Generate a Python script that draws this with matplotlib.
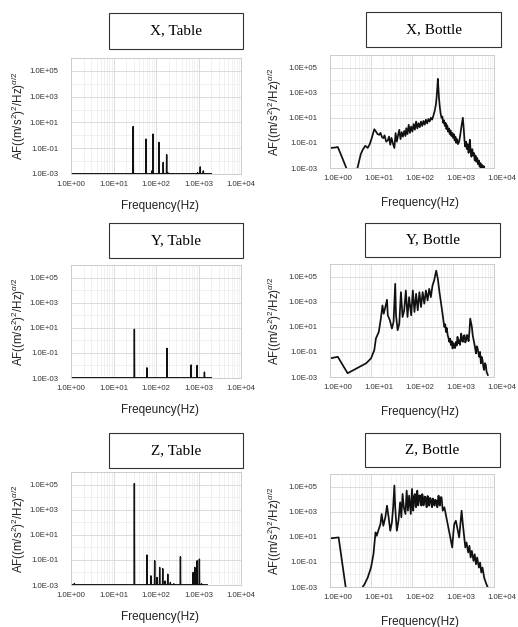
import matplotlib
matplotlib.use('Agg')
import numpy as np
import matplotlib.pyplot as plt
import matplotlib.transforms as mtransforms
from matplotlib.patches import Rectangle
from matplotlib.ticker import FixedLocator, NullFormatter

plt.rcParams['font.family'] = ['Liberation Sans', 'DejaVu Sans']
plt.rcParams['mathtext.fontset'] = 'custom'
plt.rcParams['mathtext.rm'] = 'Liberation Sans'
plt.rcParams['mathtext.it'] = 'Liberation Sans:italic'

# ---- data (log10 of frequency in Hz, log10 of AF) ----
# Table: discrete spikes on a floor near 1e-3
x_table_f = [29, 58, 80, 85, 117, 148, 178, 190, 950, 1100, 1300]
x_table_logaf = [0.68, -0.29, -2.76, 0.1, -0.55, -2.1, -1.5, -2.9, -2.9, -2.45, -2.76]

y_table_f = [31, 61, 182, 670, 930, 1380]
y_table_logaf = [0.88, -2.19, -0.64, -1.96, -2.0, -2.53]

z_table_f = [1.2, 31, 61, 76, 93, 106, 122, 144, 163, 189, 218, 262, 376,
             750, 820, 930, 1050, 1180]
z_table_logaf = [-2.88, 5.08, -0.61, -2.27, -1.07, -2.4, -1.6, -1.7, -2.68, -2.14,
                 -2.8, -2.9, -0.75, -2.0, -1.6, -1.07, -0.94, -2.9]

table_floor = -2.98

# Bottle: continuous spectra
x_bottle_logf = [-0.02, 0.10, 0.19, 0.30, 0.41, 0.50, 0.67, 0.75, 0.80, 0.86, 0.92, 0.97,
                 1.02, 1.08, 1.12, 1.16, 1.20, 1.23, 1.27, 1.30, 1.33, 1.37, 1.41, 1.44,
                 1.47, 1.50, 1.53, 1.57, 1.60, 1.63, 1.66, 1.69, 1.72, 1.75, 1.78, 1.81,
                 1.84, 1.86, 1.89, 1.92, 1.95, 1.98, 2.01, 2.04, 2.07, 2.10, 2.13, 2.16,
                 2.19, 2.22, 2.25, 2.28, 2.31, 2.34, 2.37, 2.40, 2.43, 2.46, 2.49, 2.52,
                 2.55, 2.58, 2.60, 2.62, 2.63, 2.645, 2.66, 2.68, 2.70, 2.72, 2.74, 2.76,
                 2.78, 2.80, 2.82, 2.84, 2.86, 2.88, 2.90, 2.92, 2.94, 2.96, 2.98, 3.00,
                 3.02, 3.04, 3.06, 3.08, 3.10, 3.12, 3.15, 3.18, 3.21, 3.24, 3.26, 3.28,
                 3.30, 3.32, 3.34, 3.36, 3.38, 3.40, 3.41, 3.43, 3.45, 3.47, 3.49, 3.51,
                 3.53, 3.55, 3.57, 3.59, 3.61, 3.63, 3.65, 3.67, 3.69, 3.71, 3.73, 3.75, 3.77]
x_bottle_logaf = [-1.41, -1.38, -1.33, -2.2, -3.1, -3.8, -3.0, -1.9, -1.54, -1.23, -1.4, -1.1,
                  -0.6, 0.09, -0.09, -0.3, -0.36, -0.2, -0.55, -0.62, -0.4, -0.9, -0.8, -0.5,
                  -1.15, -0.6, -1.0, -1.41, -0.22, -0.9, -0.4, 0.04, -0.7, -0.15, -0.5, -0.05,
                  -0.45, 0.17, -0.3, 0.44, -0.2, 0.3, -0.1, 0.5, 0.05, 0.7, 0.15, 0.57,
                  0.25, 0.7, 0.35, 0.75, 0.45, 0.85, 0.55, 0.9, 0.7, 1.0, 0.85, 1.15,
                  1.5, 2.0, 2.6, 3.5, 4.1, 3.3, 2.5, 1.8, 1.3, 1.0, 1.1, 0.6,
                  0.8, 0.35, 0.6, 0.1, 0.4, -0.1, 0.15, -0.3, 0.0, -0.45, -0.2, -0.6,
                  -0.3, -0.8, -0.5, -1.0, -0.7, -1.1, -0.9, -0.3, 0.4, 1.0, 0.2, -0.8,
                  -1.3, -0.9, -1.5, -1.1, -1.8, -1.2, -0.75, -1.6, -2.1, -1.5, -2.0, -1.8,
                  -2.4, -2.0, -2.5, -2.2, -2.7, -2.4, -2.9, -2.6, -3.0, -2.75, -3.05, -2.85, -3.2]

y_bottle_logf = [0.00, 0.19, 0.43, 0.88, 1.00, 1.08, 1.12, 1.19, 1.24, 1.28, 1.31, 1.35,
                 1.39, 1.41, 1.46, 1.51, 1.55, 1.59, 1.61, 1.65, 1.69, 1.73, 1.77, 1.81,
                 1.85, 1.89, 1.93, 1.98, 2.02, 2.06, 2.10, 2.14, 2.18, 2.22, 2.26, 2.30,
                 2.34, 2.38, 2.42, 2.46, 2.50, 2.54, 2.59, 2.63, 2.67, 2.71, 2.75, 2.77,
                 2.79, 2.81, 2.83, 2.85, 2.87, 2.89, 2.91, 2.93, 2.95, 2.97, 2.99, 3.01,
                 3.03, 3.05, 3.07, 3.09, 3.11, 3.13, 3.15, 3.17, 3.20, 3.22, 3.24, 3.26,
                 3.28, 3.30, 3.32, 3.34, 3.36, 3.38, 3.40, 3.42, 3.46, 3.48, 3.52, 3.54,
                 3.56, 3.58, 3.60, 3.62, 3.64, 3.66, 3.68, 3.70, 3.72, 3.74, 3.76, 3.78,
                 3.80, 3.82, 3.85]
y_bottle_logaf = [-1.52, -1.39, -2.70, -1.91, -1.52, -0.86, 0.07, 0.59, 1.65, 2.70, 2.04, 2.57,
                  3.15, 1.91, 1.52, 0.86, 1.39, 4.42, 1.91, 0.73, 1.25, 3.76, 1.78, 2.31,
                  3.89, 1.78, 3.36, 1.91, 3.89, 2.18, 3.63, 2.31, 3.76, 2.57, 3.76, 2.84,
                  3.89, 3.10, 4.02, 3.36, 4.29, 4.68, 5.47, 4.82, 3.76, 2.84, 1.91, 1.40,
                  0.99, 1.20, 0.59, 0.90, 0.33, 0.10, -0.20, 0.05, -0.46, -0.15, -0.73, -0.30,
                  -0.46, -0.70, -0.20, -0.50, 0.20, -0.30, -0.07, -0.45, 0.46, -0.10, -0.20, 0.30,
                  0.33, -0.25, -0.07, 0.35, 0.20, -0.15, 0.59, 1.65, 0.99, 0.33, -0.33, -0.70,
                  -1.12, -0.55, -0.73, -1.10, -1.39, -1.00, -1.91, -1.40, -1.65, -2.20, -2.44, -1.90,
                  -2.04, -2.60, -2.84]

z_bottle_logf = [0.00, 0.21, 0.39, 0.76, 0.84, 0.92, 1.00, 1.06, 1.11, 1.14, 1.19, 1.23,
                 1.26, 1.30, 1.35, 1.39, 1.43, 1.47, 1.51, 1.54, 1.57, 1.59, 1.63, 1.67,
                 1.71, 1.74, 1.77, 1.80, 1.84, 1.87, 1.90, 1.93, 1.97, 2.00, 2.03, 2.05,
                 2.07, 2.09, 2.10, 2.12, 2.13, 2.15, 2.16, 2.18, 2.20, 2.22, 2.23, 2.25,
                 2.26, 2.28, 2.29, 2.31, 2.33, 2.35, 2.36, 2.38, 2.39, 2.41, 2.42, 2.44,
                 2.46, 2.48, 2.49, 2.51, 2.52, 2.54, 2.55, 2.57, 2.59, 2.61, 2.62, 2.64,
                 2.65, 2.67, 2.68, 2.70, 2.72, 2.75, 2.79, 2.83, 2.87, 2.91, 2.95, 2.98,
                 3.01, 3.03, 3.07, 3.11, 3.15, 3.18, 3.21, 3.24, 3.27, 3.30, 3.33, 3.37,
                 3.40, 3.43, 3.46, 3.50, 3.53, 3.56, 3.59, 3.63, 3.66, 3.69, 3.72, 3.76,
                 3.80, 3.85]
z_bottle_logaf = [0.87, 0.95, -3.19, -3.19, -2.79, -2.25, -1.45, -0.39, 1.35, 1.08, 1.61, 2.01,
                  2.81, 1.88, 2.55, 3.48, 2.55, 1.48, 2.15, 3.35, 5.08, 3.35, 1.48, 2.28,
                  3.75, 2.55, 4.41, 3.35, 2.81, 4.68, 3.08, 4.28, 2.81, 4.81, 3.08, 4.20,
                  4.41, 3.40, 3.35, 4.50, 4.68, 3.50, 3.61, 4.30, 4.28, 3.55, 3.48, 4.40,
                  4.28, 3.50, 3.61, 4.20, 4.15, 3.40, 3.35, 4.25, 4.15, 3.50, 3.48, 4.10,
                  4.01, 3.45, 3.35, 4.05, 4.01, 3.55, 3.48, 3.95, 3.88, 3.40, 3.35, 4.20,
                  4.28, 3.55, 3.48, 4.15, 4.15, 3.08, 3.35, 2.68, 2.01, 1.35, 0.68, 0.15,
                  1.35, 2.01, 2.28, 1.61, 0.95, 2.01, 3.08, 2.01, 1.08, 0.15, 0.55, -0.25,
                  0.28, -0.65, -0.12, -0.92, -0.39, -1.19, -0.65, -1.45, -1.05, -1.85, -1.45, -2.25,
                  -2.65, -3.05]

ytick_vals = [1e-3, 1e-1, 1e1, 1e3, 1e5]
ytick_labels = ['1.0E-03', '1.0E-01', '1.0E+01', '1.0E+03', '1.0E+05']
xtick_vals = [1e0, 1e1, 1e2, 1e3, 1e4]
xtick_labels = ['1.0E+00', '1.0E+01', '1.0E+02', '1.0E+03', '1.0E+04']

titles = ['X, Table', 'X, Bottle', 'Y, Table', 'Y, Bottle', 'Z, Table', 'Z, Bottle']
xlabels = ['Frequency(Hz)', 'Frequency(Hz)', 'Freqeuncy(Hz)', 'Frequency(Hz)',
           'Frequency(Hz)', 'Frequency(Hz)']
ylabel = r'AF((m/s$^2$)$^2$/Hz)$^{\alpha/2}$'

# ---- layout in pixels (left, top, right, bottom) ----
W, H = 518, 627
axes_px = [(71, 58, 241, 174), (330, 55, 494, 168),
           (71, 265, 241, 378), (330, 264, 494, 377),
           (71, 472, 241, 585), (330, 474, 494, 587)]
box_px = [(109, 13, 243, 49), (366, 12, 501, 47),
          (109, 223, 243, 258), (365, 223, 500, 257),
          (109, 433, 243, 468), (365, 433, 500, 467)]


def spikes(freqs, logaf, f_start, f_end):
    xs = [f_start]
    ys = [10 ** table_floor]
    for f, v in sorted(zip(freqs, logaf)):
        xs += [f / 1.012, f, f * 1.012]
        ys += [10 ** table_floor, 10 ** v, 10 ** table_floor]
    xs.append(f_end)
    ys.append(10 ** table_floor)
    return xs, ys


fig = plt.figure(figsize=(W / 100, H / 100), dpi=100)

series = [
    spikes(x_table_f, x_table_logaf, 1.0, 2000),
    (10 ** np.array(x_bottle_logf), 10 ** np.array(x_bottle_logaf)),
    spikes(y_table_f, y_table_logaf, 1.0, 2000),
    (10 ** np.array(y_bottle_logf), 10 ** np.array(y_bottle_logaf)),
    spikes(z_table_f, z_table_logaf, 1.0, 1600),
    (10 ** np.array(z_bottle_logf), 10 ** np.array(z_bottle_logaf)),
]

for i in range(6):
    l, t, r, b = axes_px[i]
    ax = fig.add_axes([l / W, 1 - b / H, (r - l) / W, (b - t) / H])
    xs, ys = series[i]
    is_bottle = i % 2 == 1
    ax.plot(xs, ys, color='#111111', lw=1.25 if is_bottle else 1.0)
    ax.set_xscale('log')
    ax.set_yscale('log')
    ax.set_xlim(1, 1e4)
    ax.set_ylim(1e-3, 1e6)

    ax.yaxis.set_major_locator(FixedLocator(ytick_vals))
    ax.set_yticklabels(ytick_labels)
    ax.yaxis.set_minor_locator(FixedLocator([1e-2, 1e0, 1e2, 1e4]))
    ax.yaxis.set_minor_formatter(NullFormatter())
    ax.xaxis.set_major_locator(FixedLocator(xtick_vals))
    ax.set_xticklabels(xtick_labels)
    ax.xaxis.set_minor_locator(FixedLocator([m * 10 ** d for d in range(4) for m in range(2, 10)]))
    ax.xaxis.set_minor_formatter(NullFormatter())

    ax.tick_params(which='both', length=0)
    ax.tick_params(axis='y', pad=9, labelsize=5.6, labelcolor='#333333')
    ax.tick_params(axis='x', pad=5, labelsize=5.6, labelcolor='#333333')

    ax.grid(True, which='major', color='#d6d6d6', lw=0.6)
    ax.grid(True, which='minor', color='#ebebeb', lw=0.5)
    ax.set_axisbelow(True)
    for sp in ax.spines.values():
        sp.set_color('#cccccc')
        sp.set_linewidth(0.7)

    if is_bottle:
        shift = mtransforms.ScaledTranslation(0.08, 0, fig.dpi_scale_trans)
        for lab in ax.get_xticklabels():
            lab.set_transform(lab.get_transform() + shift)

    ax.set_xlabel(xlabels[i], fontsize=8.5, color='#222222')
    ax.set_ylabel(ylabel, fontsize=8.3, color='#222222')
    hpx = b - t
    wpx = r - l
    xl_x = (160 - 71) / wpx if not is_bottle else (420 - 330) / wpx
    ax.xaxis.set_label_coords(xl_x, -(26 if not is_bottle else 29) / hpx)
    ax.yaxis.set_label_coords(-(43 if not is_bottle else 46) / wpx, 0.5)

    # title box
    bl, bt, br, bb = box_px[i]
    fig.add_artist(Rectangle((bl / W, 1 - bb / H), (br - bl) / W, (bb - bt) / H,
                             transform=fig.transFigure, facecolor='white',
                             edgecolor='#333333', lw=0.8))
    fig.text((bl + br) / 2 / W, 1 - (bt + bb) / 2 / H, titles[i],
             ha='center', va='center', fontsize=11,
             family=['Liberation Serif', 'DejaVu Serif'])

fig.savefig('out.png', dpi=100)
